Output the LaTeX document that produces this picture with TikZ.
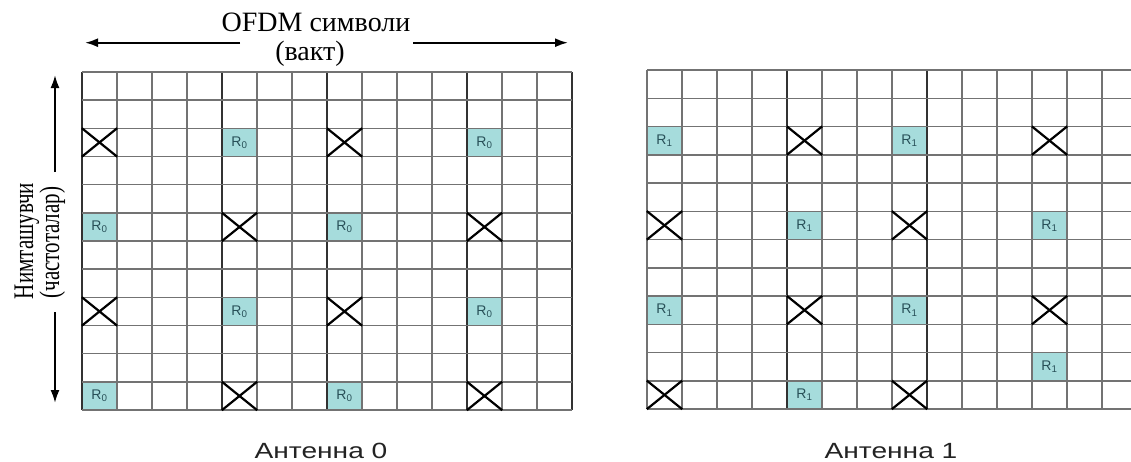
\documentclass[tikz,border=0pt]{standalone}
\usepackage{fontspec}
\setmainfont{Liberation Serif}
\newfontfamily\sansf{Liberation Sans}
\usetikzlibrary{arrows.meta}
\definecolor{gridc}{RGB}{115,115,115}
\definecolor{gridd}{RGB}{50,50,50}
\definecolor{rsfill}{RGB}{166,220,220}
\definecolor{rstext}{RGB}{40,80,88}
\definecolor{labc}{RGB}{35,35,35}
\begin{document}
\begin{tikzpicture}[x=1pt,y=-1pt,
  gridline/.style={gridc,line width=1.5pt},
  gridthick/.style={gridd,line width=1.7pt},
  refcell/.style={fill=rsfill,draw=none,minimum width=35pt,minimum height=28.2pt,inner sep=0pt,
    text=rstext,font=\sansf\fontsize{14}{14}\selectfont},
  xcell/.style={draw=none,minimum width=35pt,minimum height=28.2pt,inner sep=0pt},
  xline/.style={black,line width=2.2pt},
  axarrow/.style={black,line width=2pt,-{Latex[length=13pt,width=9pt]}},
  titlefont/.style={font=\fontsize{28}{28}\selectfont},
  sidefont/.style={font=\fontsize{21}{21}\selectfont},
  antfont/.style={font=\sansf\fontsize{22}{22}\selectfont,text=labc}
]
\useasboundingbox (0,0) rectangle (1131,461);
\fill[white] (0,0) rectangle (1131,461);

% ---------- Antenna 0 (left grid) ----------
\foreach \r/\c in {2/4,2/11,5/0,5/7,8/4,8/11,11/0,11/7}{
  \node[refcell] (L-\r-\c) at ({82+35*(\c+0.5)},{72+28.17*(\r+0.5)}) {R\textsubscript{0}};
}
\foreach \i in {0,...,14}{
  \draw[gridline] ({82+35*\i},72) -- ({82+35*\i},410);
}
\foreach \i in {0,4,7,11,14}{
  \draw[gridthick] ({82+35*\i},72) -- ({82+35*\i},410);
}
\foreach \j in {0,...,12}{
  \draw[gridline] (82,{72+28.17*\j}) -- (572,{72+28.17*\j});
}
\foreach \r/\c in {2/0,2/7,5/4,5/11,8/0,8/7,11/4,11/11}{
  \node[xcell] (LX-\r-\c) at ({82+35*(\c+0.5)},{72+28.17*(\r+0.5)}) {};
  \draw[xline] (LX-\r-\c.north west) -- (LX-\r-\c.south east)
               (LX-\r-\c.north east) -- (LX-\r-\c.south west);
}

% ---------- Antenna 1 (right grid) ----------
\foreach \r/\c in {2/0,2/7,5/4,5/11,8/0,8/7,10/11,11/4}{
  \node[refcell] (R-\r-\c) at ({647+35*(\c+0.5)},{70+28.25*(\r+0.5)}) {R\textsubscript{1}};
}
\foreach \i in {0,...,13}{
  \draw[gridline] ({647+35*\i},70) -- ({647+35*\i},409);
}
\foreach \i in {4,8}{
  \draw[gridthick] ({647+35*\i},70) -- ({647+35*\i},409);
}
\foreach \j in {0,...,12}{
  \draw[gridline] (647,{70+28.25*\j}) -- (1131,{70+28.25*\j});
}
\foreach \r/\c in {2/4,2/11,5/0,5/7,8/4,8/11,11/0,11/7}{
  \node[xcell] (RX-\r-\c) at ({647+35*(\c+0.5)},{70+28.25*(\r+0.5)}) {};
  \draw[xline] (RX-\r-\c.north west) -- (RX-\r-\c.south east)
               (RX-\r-\c.north east) -- (RX-\r-\c.south west);
}

% ---------- axis labels ----------
\node[titlefont,anchor=base] (top1) at (316,31.5) {OFDM символи};
\node[titlefont,anchor=base] (top2) at (310,60) {(вакт)};
\coordinate (hl) at (85,42.7);
\coordinate (hgl) at (240,42.7);
\coordinate (hgr) at (413,42.7);
\coordinate (hr) at (568,42.7);
\draw[axarrow] (hgl) -- (hl);
\draw[axarrow] (hgr) -- (hr);

\node[sidefont,rotate=90,anchor=base] (side1) at (33,241) {\scalebox{1}[1.35]{Нимташувчи}};
\node[sidefont,rotate=90,anchor=base] (side2) at (59,242.5) {\scalebox{1}[1.35]{(частоталар)}};
\coordinate (vt) at (55,75);
\coordinate (vgt) at (55,172);
\coordinate (vgb) at (55,312);
\coordinate (vb) at (55,403);
\draw[axarrow] (vgt) -- (vt);
\draw[axarrow] (vgb) -- (vb);

\node[antfont,anchor=base] (ant0) at (321,458) {\scalebox{1.28}[1]{Антенна 0}};
\node[antfont,anchor=base] (ant1) at (891,458) {\scalebox{1.28}[1]{Антенна 1}};
\end{tikzpicture}
\end{document}
